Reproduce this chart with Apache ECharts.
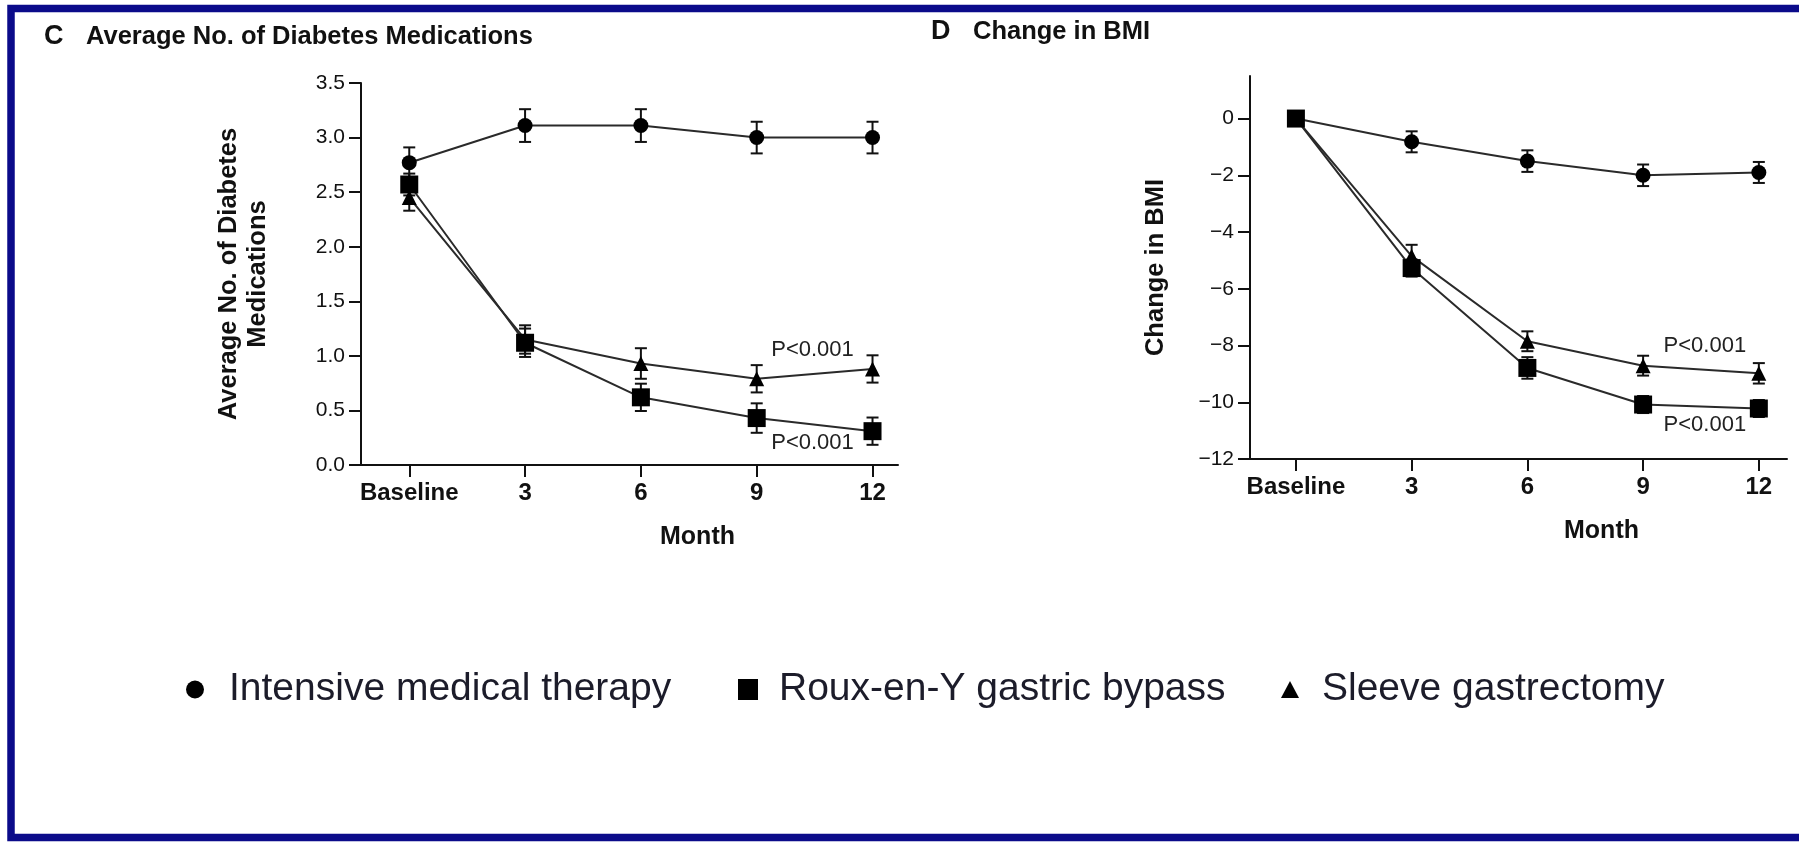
<!DOCTYPE html>
<html>
<head>
<meta charset="utf-8">
<title>Diabetes medications and change in BMI</title>
<script src="https://cdn.jsdelivr.net/npm/echarts@6/dist/echarts.min.js"></script>
<style>
  html, body { margin: 0; padding: 0; background: #ffffff; }
  #chart { width: 1799px; height: 842px; }
</style>
</head>
<body>
<div id="chart"></div>
<script>
// Follow-up visits (months after baseline)
const months = [0, 3, 6, 9, 12];
const monthTickLabels = ['Baseline', '3', '6', '9', '12'];

// Panel C: average number of diabetes medications (mean and standard error)
const medIntensive   = [2.77, 3.11, 3.11, 3.00, 3.00];
const medIntensiveSE = [0.14, 0.15, 0.15, 0.145, 0.145];
const medBypass      = [2.57, 1.12, 0.62, 0.43, 0.31];
const medBypassSE    = [0.10, 0.13, 0.125, 0.135, 0.125];
const medSleeve      = [2.45, 1.15, 0.93, 0.79, 0.88];
const medSleeveSE    = [0.12, 0.13, 0.14, 0.125, 0.125];
const medTicks       = [0, 0.5, 1.0, 1.5, 2.0, 2.5, 3.0, 3.5];

// Panel D: change in BMI (mean and standard error)
const bmiIntensive   = [0, -0.82, -1.50, -2.00, -1.90];
const bmiIntensiveSE = [0, 0.37, 0.38, 0.38, 0.37];
const bmiBypass      = [0, -5.27, -8.79, -10.08, -10.22];
const bmiBypassSE    = [0, 0.30, 0.38, 0.30, 0.30];
const bmiSleeve      = [0, -4.85, -7.85, -8.71, -8.98];
const bmiSleeveSE    = [0, 0.40, 0.35, 0.35, 0.36];
const bmiTicks       = [0, -2, -4, -6, -8, -10, -12];

const groupNames = ['Intensive medical therapy', 'Roux-en-Y gastric bypass', 'Sleeve gastrectomy'];
const pValueText = 'P<0.001';

const FONT = "'Liberation Sans', Arial, sans-serif";
const INK = '#111111';
const LEGEND_INK = '#1c1c2a';

function points(vals, lastLabel) {
  return months.map((m, i) => {
    if (i === months.length - 1 && lastLabel) {
      return { value: [m, vals[i]], label: lastLabel };
    }
    return [m, vals[i]];
  });
}

function bars(vals, se) {
  return months.map((m, i) => [m, vals[i] - se[i], vals[i] + se[i]]);
}

function pLabel(dx, dy) {
  return {
    show: true, position: 'inside', offset: [dx, dy],
    formatter: pValueText, fontSize: 22, color: '#222', fontFamily: FONT
  };
}

function errorBarRender(params, api) {
  const x = api.value(0), lo = api.value(1), hi = api.value(2);
  if (!(hi > lo)) return { type: 'group', children: [] };
  const a = api.coord([x, lo]);
  const b = api.coord([x, hi]);
  const cap = 6;
  const style = { stroke: INK, lineWidth: 2 };
  return {
    type: 'group',
    children: [
      { type: 'line', shape: { x1: a[0], y1: a[1], x2: b[0], y2: b[1] }, style },
      { type: 'line', shape: { x1: b[0] - cap, y1: b[1], x2: b[0] + cap, y2: b[1] }, style },
      { type: 'line', shape: { x1: a[0] - cap, y1: a[1], x2: a[0] + cap, y2: a[1] }, style }
    ]
  };
}

function lineSeries(name, symbol, size, vals, gridIdx, lastLabel) {
  return {
    type: 'line', name, xAxisIndex: gridIdx, yAxisIndex: gridIdx,
    data: points(vals, lastLabel),
    symbol, symbolSize: size, showAllSymbol: true,
    itemStyle: { color: '#000000' },
    lineStyle: { color: '#2a2a2a', width: 2 },
    emphasis: { disabled: true },
    z: 3, animation: false
  };
}

function errSeries(name, vals, se, gridIdx) {
  return {
    type: 'custom', name: name + ' SE', xAxisIndex: gridIdx, yAxisIndex: gridIdx,
    data: bars(vals, se), encode: { x: 0, y: [1, 2] },
    renderItem: errorBarRender, z: 2, animation: false, silent: true
  };
}

function xAxisDef(gridIdx, min, max, namePad) {
  return {
    type: 'value', gridIndex: gridIdx, min, max,
    name: 'Month', nameLocation: 'middle', nameGap: 60,
    nameTextStyle: { fontFamily: FONT, fontWeight: 'bold', fontSize: 25, color: INK, padding: [0, 0, 0, namePad] },
    axisLine: { show: true, onZero: false, lineStyle: { color: INK, width: 2 } },
    axisTick: { show: true, inside: false, length: 12, customValues: months, lineStyle: { color: INK, width: 2 } },
    axisLabel: {
      show: true, customValues: months, margin: 16,
      formatter: v => monthTickLabels[months.indexOf(v)],
      fontFamily: FONT, fontWeight: 'bold', fontSize: 24, color: INK
    },
    splitLine: { show: false }
  };
}

function yTickText(v, digits) {
  const s = Math.abs(v).toFixed(digits);
  return v < 0 ? '\u2212' + s : s;
}

function legendDef(name, icon, left, w, h, pad) {
  return {
    data: [{ name, icon }],
    left, top: 670, padding: 0, itemWidth: w, itemHeight: h, selectedMode: false,
    textStyle: { fontFamily: FONT, fontSize: 39, color: LEGEND_INK, padding: [0, 0, 0, pad] }
  };
}

const option = {
  backgroundColor: '#ffffff',
  animation: false,
  textStyle: { fontFamily: FONT },
  title: [
    {
      text: '{k|C}{t|Average No. of Diabetes Medications}',
      left: 44, top: 23, padding: 0,
      textStyle: { rich: {
        k: { fontFamily: FONT, fontWeight: 'bold', fontSize: 27, color: INK, width: 42 },
        t: { fontFamily: FONT, fontWeight: 'bold', fontSize: 25.5, color: INK }
      } }
    },
    {
      text: '{k|D}{t|Change in BMI}',
      left: 931, top: 18, padding: 0,
      textStyle: { rich: {
        k: { fontFamily: FONT, fontWeight: 'bold', fontSize: 27, color: INK, width: 42 },
        t: { fontFamily: FONT, fontWeight: 'bold', fontSize: 25.5, color: INK }
      } }
    }
  ],
  legend: [
    legendDef(groupNames[0], 'circle', 186, 18, 21, 20),
    legendDef(groupNames[1], 'rect', 738, 20, 21, 16),
    legendDef(groupNames[2], 'triangle', 1281, 18, 17, 18)
  ],
  grid: [
    { left: 361, top: 83, width: 537, height: 382, containLabel: false },
    { left: 1250, top: 76, width: 537, height: 383, containLabel: false }
  ],
  xAxis: [
    xAxisDef(0, -1.25, 12.66, 136),
    xAxisDef(1, -1.19, 12.73, 166)
  ],
  yAxis: [
    {
      type: 'value', gridIndex: 0, min: 0, max: 3.5, interval: 0.5,
      name: 'Average No. of Diabetes\nMedications', nameLocation: 'middle', nameGap: 89,
      nameTextStyle: { fontFamily: FONT, fontWeight: 'bold', fontSize: 25.5, lineHeight: 29, color: INK, align: 'center' },
      axisLine: { show: true, onZero: false, lineStyle: { color: INK, width: 2 } },
      axisTick: { show: true, length: 12, customValues: medTicks, lineStyle: { color: INK, width: 2 } },
      axisLabel: { show: true, customValues: medTicks, margin: 16, formatter: v => yTickText(v, 1), fontFamily: FONT, fontSize: 21, color: INK },
      splitLine: { show: false }
    },
    {
      type: 'value', gridIndex: 1, min: -12, max: 1.5,
      name: 'Change in BMI', nameLocation: 'middle', nameGap: 81,
      nameTextStyle: { fontFamily: FONT, fontWeight: 'bold', fontSize: 25.5, color: INK, align: 'center' },
      axisLine: { show: true, onZero: false, lineStyle: { color: INK, width: 2 } },
      axisTick: { show: true, length: 12, customValues: bmiTicks, lineStyle: { color: INK, width: 2 } },
      axisLabel: { show: true, customValues: bmiTicks, margin: 16, formatter: v => yTickText(v, 0), fontFamily: FONT, fontSize: 21, color: INK },
      splitLine: { show: false }
    }
  ],
  series: [
    // Panel C
    errSeries(groupNames[0], medIntensive, medIntensiveSE, 0),
    errSeries(groupNames[2], medSleeve, medSleeveSE, 0),
    errSeries(groupNames[1], medBypass, medBypassSE, 0),
    lineSeries(groupNames[0], 'circle', 15, medIntensive, 0),
    lineSeries(groupNames[2], 'triangle', 15, medSleeve, 0, pLabel(-60, -19)),
    lineSeries(groupNames[1], 'rect', 18, medBypass, 0, pLabel(-60, 12)),
    // Panel D
    errSeries(groupNames[0], bmiIntensive, bmiIntensiveSE, 1),
    errSeries(groupNames[2], bmiSleeve, bmiSleeveSE, 1),
    errSeries(groupNames[1], bmiBypass, bmiBypassSE, 1),
    lineSeries(groupNames[0], 'circle', 15, bmiIntensive, 1),
    lineSeries(groupNames[2], 'triangle', 15, bmiSleeve, 1, pLabel(-54, -27)),
    lineSeries(groupNames[1], 'rect', 18, bmiBypass, 1, pLabel(-54, 16))
  ],
  graphic: [
    {
      type: 'rect', silent: true, z: 100,
      shape: { x: 11, y: 8.5, width: 1830, height: 829 },
      style: { fill: 'none', stroke: '#0b0b8a', lineWidth: 7.5 }
    }
  ]
};

const chart = echarts.init(document.getElementById('chart'), null, { renderer: 'canvas' });
chart.setOption(option);
</script>
</body>
</html>
